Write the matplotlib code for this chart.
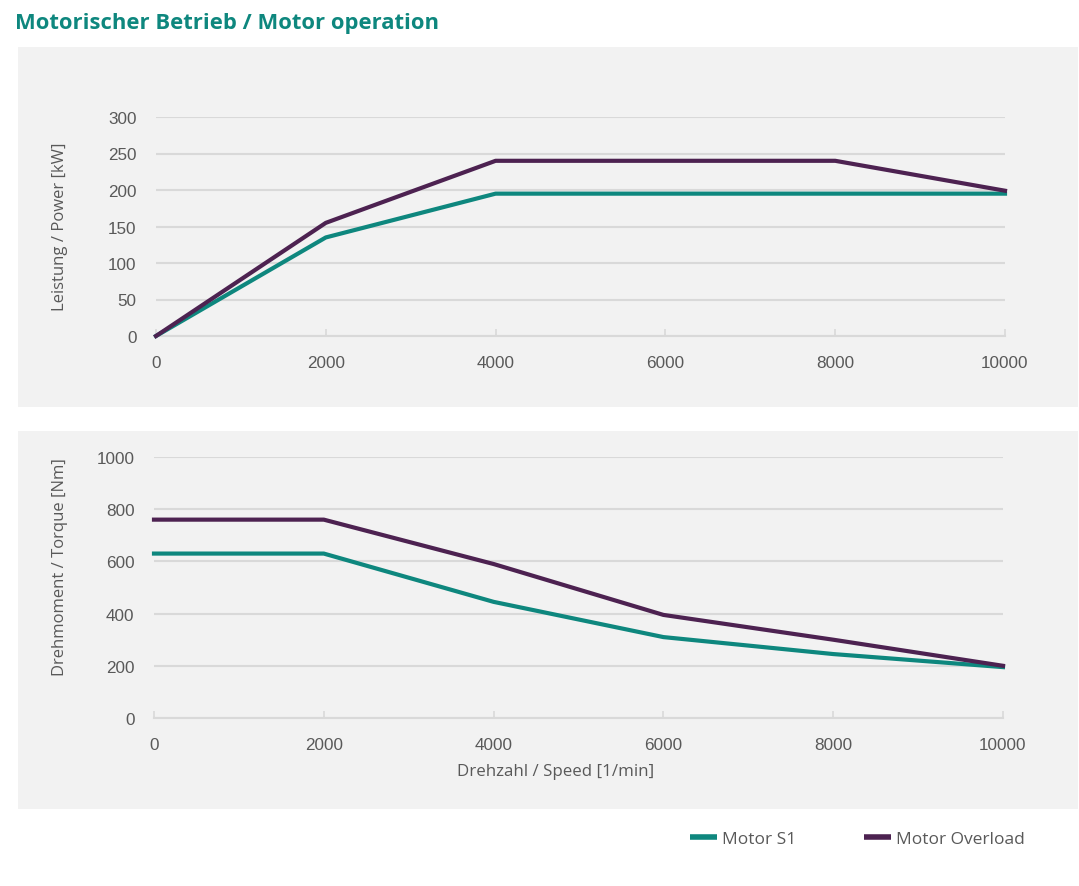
import matplotlib.pyplot as plt
from matplotlib.patches import Rectangle
from matplotlib.lines import Line2D

# Data
speed = [0, 2000, 4000, 6000, 8000, 10000]
power_s1 = [0, 135, 195, 195, 195, 195]
power_overload = [0, 155, 240, 240, 240, 199]
torque_s1 = [630, 630, 445, 310, 245, 195]
torque_overload = [760, 760, 590, 395, 300, 200]

x_ticks = [0, 2000, 4000, 6000, 8000, 10000]
power_ticks = [0, 50, 100, 150, 200, 250, 300]
torque_ticks = [0, 200, 400, 600, 800, 1000]

TEAL = "#0e877e"
PURPLE = "#4d2251"
TEXT = "#595959"
GRID = "#d9d9d9"
PANEL = "#f2f2f2"

W, H = 1079, 887
fig = plt.figure(figsize=(W / 100, H / 100), dpi=100)
fig.patch.set_facecolor("white")


def px_rect(x0, y0, x1, y1):
    # pixel box (top-left origin) -> figure fraction [left, bottom, width, height]
    return [x0 / W, 1 - y1 / H, (x1 - x0) / W, (y1 - y0) / H]


# grey panels behind the two charts
for y0, y1 in [(48, 408), (432, 810)]:
    l, b, w, h = px_rect(18, y0, 1078, y1)
    fig.patches.append(Rectangle((l, b), w, h, transform=fig.transFigure,
                                 facecolor=PANEL, edgecolor="none", zorder=-5))

fig.text(15 / W, 1 - 23 / H, "Motorischer Betrieb / Motor operation",
         fontsize=15.8, fontweight="bold", color=TEAL, family="Open Sans",
         ha="left", va="center")


def style_axes(ax, yticks):
    ax.set_facecolor("none")
    for s in ["top", "right", "left"]:
        ax.spines[s].set_visible(False)
    ax.spines["bottom"].set_color(GRID)
    ax.spines["bottom"].set_linewidth(1.5)
    ax.set_xlim(0, 10000)
    ax.set_ylim(yticks[0], yticks[-1])
    ax.set_xticks(x_ticks)
    ax.set_yticks(yticks)
    ax.grid(axis="y", color=GRID, linewidth=1.5)
    ax.set_axisbelow(True)
    ax.tick_params(axis="x", direction="in", length=5, width=1.2, color=GRID,
                   pad=14, labelsize=12.3, labelcolor=TEXT)
    ax.tick_params(axis="y", length=0, pad=14, labelsize=12.3, labelcolor=TEXT)
    for lab in ax.get_xticklabels() + ax.get_yticklabels():
        lab.set_family("Liberation Sans")


ax1 = fig.add_axes(px_rect(156, 118, 1005, 337))
ax1.plot(speed, power_s1, color=TEAL, linewidth=3, clip_on=False, zorder=3)
ax1.plot(speed, power_overload, color=PURPLE, linewidth=3, clip_on=False, zorder=4)
style_axes(ax1, power_ticks)
ax1.set_ylabel("Leistung / Power [kW]", fontsize=12, color=TEXT,
               family="Open Sans", va="center")
ax1.yaxis.set_label_coords(60 / W, 1 - 227 / H, transform=fig.transFigure)

ax2 = fig.add_axes(px_rect(154, 458, 1003, 719))
ax2.plot(speed, torque_s1, color=TEAL, linewidth=3, clip_on=False, zorder=3)
ax2.plot(speed, torque_overload, color=PURPLE, linewidth=3, clip_on=False, zorder=4)
style_axes(ax2, torque_ticks)
ax2.set_ylabel("Drehmoment / Torque [Nm]", fontsize=12, color=TEXT,
               family="Open Sans", va="center")
ax2.yaxis.set_label_coords(60 / W, 1 - 567 / H, transform=fig.transFigure)
ax2.set_xlabel("Drehzahl / Speed [1/min]", fontsize=12.2, color=TEXT,
               family="Open Sans", va="center")
ax2.xaxis.set_label_coords(556 / W, 1 - 772 / H, transform=fig.transFigure)

handles = [Line2D([], [], color=TEAL, linewidth=4, solid_capstyle="butt"),
           Line2D([], [], color=PURPLE, linewidth=4, solid_capstyle="butt")]
leg = fig.legend(handles, ["Motor S1", "Motor Overload"], loc="center left",
                 bbox_to_anchor=(674 / W, 1 - 840 / H), ncol=2, frameon=False,
                 handlelength=1.55, handletextpad=0.3, columnspacing=3.9,
                 prop={"family": "Open Sans", "size": 12.5})
for t in leg.get_texts():
    t.set_color(TEXT)

fig.savefig("out.png", dpi=100)
